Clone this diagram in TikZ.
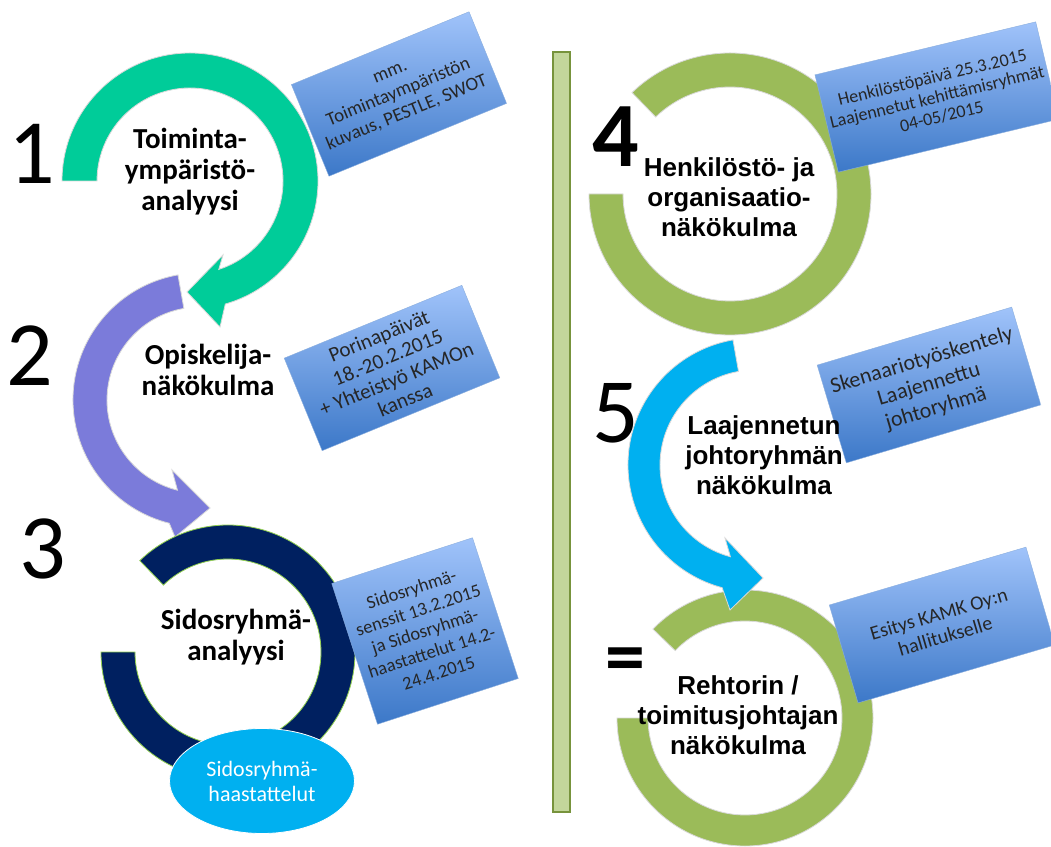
\documentclass[tikz,border=0pt]{standalone}
\usepackage{fontspec}
\setmainfont{Carlito}
\newfontfamily\arialfont{Liberation Sans}
\usetikzlibrary{calc, shapes.geometric}

\definecolor{ringteal}{HTML}{00CC99}
\definecolor{ringpurple}{HTML}{7B7BDA}
\definecolor{ringnavy}{HTML}{002060}
\definecolor{ringgreen}{HTML}{9BBB59}
\definecolor{ringcyan}{HTML}{00B0F0}
\definecolor{navyedge}{HTML}{92D050}
\definecolor{barfill}{HTML}{C3D69B}
\definecolor{baredge}{HTML}{77933C}
\definecolor{notetop}{HTML}{A0C3FA}
\definecolor{notebot}{HTML}{3C78C8}

\begin{document}
\begin{tikzpicture}[x=1pt, y=1pt,
        ring/.style={draw=black!15, line width=0.8pt},
        note/.style={rectangle, draw=notebot!60, line width=0.4pt, top color=notetop, bottom color=notebot, align=center, inner sep=2pt, text=black!85},
        title/.style={align=center, inner sep=0pt, font=\bfseries\fontsize{29}{31}\selectfont},
        rtitle/.style={align=center, inner sep=0pt, font=\arialfont\bfseries\fontsize{26}{30}\selectfont},
        stage/.style={inner sep=0pt, font=\fontsize{92}{92}\selectfont}
    ]
        \clip (0,0) rectangle (1051,846);
        \fill[white] (0,0) rectangle (1051,846);

        \coordinate (c1) at (190,665);
        \coordinate (c2) at (200,446);
        \coordinate (c3) at (228,194);
        \coordinate (c4) at (730,652);
        \coordinate (c5) at (755,381);
        \coordinate (c6) at (745,128);

        % left column
        \path[ring, fill=ringpurple] ($(c2)+(100:127)$) arc[start angle=100, end angle=256, radius=127pt]
            -- (175,309) -- (210,338) -- (172,376)
            -- ($(c2)+(256:93)$) arc[start angle=256, end angle=100, radius=93pt] -- cycle;
        \path[ring, fill=ringteal] ($(c1)+(180:128)$) arc[start angle=180, end angle=-74, radius=128pt]
            -- (220,519) -- (187,554) -- (223,591)
            -- ($(c1)+(-72:93)$) arc[start angle=-72, end angle=180, radius=93pt] -- cycle;
        \path[fill=ringnavy, draw=navyedge, line width=0.8pt] ($(c3)+(180:127)$) arc[start angle=180, end angle=494, radius=127pt]
            -- ($(c3)+(494:93)$) arc[start angle=494, end angle=180, radius=93pt] -- cycle;

        % right column
        \path[ring, fill=ringgreen] ($(c4)+(180:141)$) arc[start angle=180, end angle=494, radius=141pt]
            -- ($(c4)+(494:107)$) arc[start angle=494, end angle=180, radius=107pt] -- cycle;
        \path[ring, fill=ringgreen] ($(c6)+(180:128)$) arc[start angle=180, end angle=496, radius=128pt]
            -- ($(c6)+(496:97)$) arc[start angle=496, end angle=180, radius=97pt] -- cycle;
        \path[ring, fill=ringcyan] ($(c5)+(100:127)$) arc[start angle=100, end angle=255, radius=127pt]
            -- (730,236) -- (763,268) -- (725,308)
            -- ($(c5)+(255:95)$) arc[start angle=255, end angle=100, radius=95pt] -- cycle;

        % divider
        \filldraw[fill=barfill, draw=baredge, line width=2pt] (553,34) rectangle (570,794);

        % notes
        \node[note, rotate=22.3, minimum width=192pt, minimum height=99pt, font=\fontsize{19}{22}\selectfont] (env) at (399,752) {mm.\\Toimintaympäristön\\kuvaus, PESTLE, SWOT};
        \node[note, rotate=22.3, minimum width=192pt, minimum height=100pt, font=\fontsize{21}{23}\selectfont] (pori) at (392,478) {Porinapäivät\\18.-20.2.2015\\+ Yhteistyö KAMOn\\kanssa};
        \node[note, rotate=18, minimum width=148pt, minimum height=148pt, font=\fontsize{18.5}{22}\selectfont] (sess) at (425,215) {Sidosryhmä-\\senssit 13.2.2015\\ja Sidosryhmä-\\haastattelut 14.2-\\24.4.2015};
        \node[note, rotate=13.5, minimum width=227pt, minimum height=100pt, font=\fontsize{18}{20}\selectfont] (staff) at (937,749) {Henkilöstöpäivä 25.3.2015\\Laajennetut kehittämisryhmät\\04-05/2015};
        \node[note, rotate=16.6, minimum width=203pt, minimum height=102pt, font=\fontsize{22}{25}\selectfont] (scen) at (929,461) {Skenaariotyöskentely\\Laajennettu\\johtoryhmä};
        \node[note, rotate=16.4, minimum width=205pt, minimum height=102pt, font=\fontsize{20}{23}\selectfont] (board) at (942,221) {Esitys KAMK Oy:n\\hallitukselle};

        \node[ellipse, fill=ringcyan, draw=white, line width=0.8pt, minimum width=185pt, minimum height=105pt, inner sep=0pt, text=white, align=center, font=\fontsize{22}{25}\selectfont] (intv) at (262,65) {Sidosryhmä-\\haastattelut};

        % titles
        \node[title] (t1) at (190,674) {Toiminta-\\ympäristö-\\analyysi};
        \node[title] (t2) at (208,476) {Opiskelija-\\näkökulma};
        \node[title] (t3) at (236,209) {Sidosryhmä-\\analyysi};
        \node[rtitle] (t4) at (729,649) {Henkilöstö- ja\\organisaatio-\\näkökulma};
        \node[rtitle] (t5) at (764,391) {Laajennetun\\johtoryhmän\\näkökulma};
        \node[rtitle] (t6) at (738,131) {Rehtorin /\\toimitusjohtajan\\näkökulma};

        % stage numbers
        \node[stage] (n1) at (32,692) {1};
        \node[stage] (n2) at (30,490) {2};
        \node[stage] (n3) at (43,297) {3};
        \node[stage, font=\bfseries\fontsize{92}{92}\selectfont] (n4) at (616,709) {4};
        \node[stage] (n5) at (616,433) {5};
        \node[stage, font=\bfseries\fontsize{80}{80}\selectfont] (eq) at (625,180) {=};
    \end{tikzpicture}
\end{document}
